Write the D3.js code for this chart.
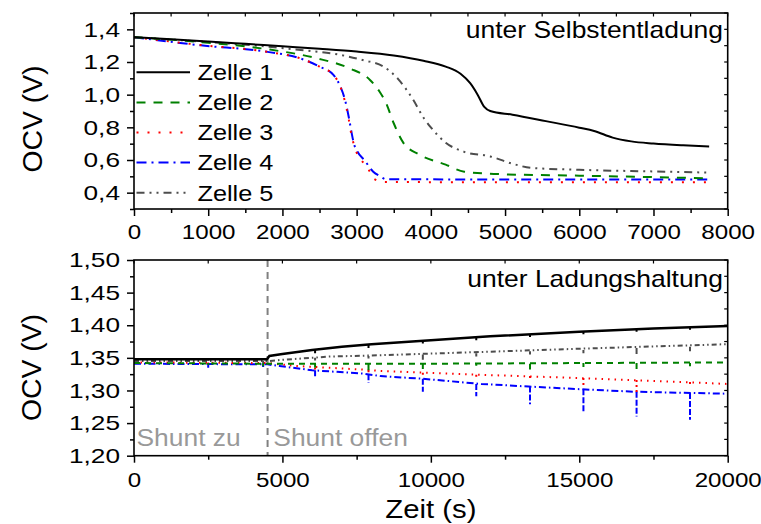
<!DOCTYPE html>
<html><head><meta charset="utf-8">
<script src="https://cdn.jsdelivr.net/npm/d3@7"></script>
<style>
body{margin:0;background:#fff;}
text{font-family:"Liberation Sans",Arial,Helvetica,sans-serif;}
</style>
</head><body>
<svg id="c" width="761" height="524"></svg>
<script>
// ---------------- data ----------------
const cellNames  = ["Zelle 1","Zelle 2","Zelle 3","Zelle 4","Zelle 5"];
const cellColors = ["#000000","#008000","#ff0000","#0000ff","#4d4d4d"];

const topXTicks = [0,1000,2000,3000,4000,5000,6000,7000,8000];
const topXMinor = [500,1500,2500,3500,4500,5500,6500,7500];
const topYTicks = [0.4,0.6,0.8,1.0,1.2,1.4];
const topYMinor = [0.3,0.5,0.7,0.9,1.1,1.3,1.5];
const botXTicks = [0,5000,10000,15000,20000];
const botXMinor = [2500,7500,12500,17500];
const botYTicks = [1.20,1.25,1.30,1.35,1.40,1.45,1.50];
const botYMinor = [1.225,1.275,1.325,1.375,1.425,1.475];

const topTitle = "unter Selbstentladung";
const botTitle = "unter Ladungshaltung";
const yTitle = "OCV (V)";
const xTitle = "Zeit (s)";
const shuntTime = 4500;
const shuntClosed = "Shunt zu";
const shuntOpen = "Shunt offen";

// self-discharge (top panel): [time s, OCV V]
const selfZ1 = [[0,1.352],[500,1.340],[1000,1.326],[1500,1.311],[2000,1.296],[2500,1.281],[3000,1.264],[3500,1.240],[3900,1.208],[4200,1.172],[4400,1.128],[4530,1.070],[4630,1.000],[4720,0.925],[4800,0.900],[5100,0.877],[5550,0.838],[6000,0.798],[6200,0.778],[6450,0.737],[6700,0.714],[7000,0.701],[7400,0.690],[7750,0.683]];
const selfZ2 = [[0,1.352],[1000,1.318],[1800,1.278],[2450,1.224],[2900,1.162],[3180,1.090],[3310,1.018],[3400,0.945],[3500,0.825],[3630,0.705],[3850,0.632],[4200,0.572],[4450,0.528],[4900,0.514],[6000,0.504],[7000,0.495],[7750,0.488]];
const selfZ3 = [[0,1.352],[900,1.304],[1800,1.262],[2240,1.222],[2500,1.172],[2690,1.120],[2780,1.050],[2840,0.962],[2890,0.858],[2930,0.755],[2965,0.690],[3000,0.645],[3100,0.578],[3170,0.535],[3235,0.484],[3380,0.465],[5000,0.464],[7750,0.463]];
const selfZ4 = [[0,1.352],[900,1.302],[1800,1.262],[2240,1.222],[2500,1.172],[2690,1.120],[2780,1.050],[2845,0.965],[2895,0.860],[2935,0.760],[2960,0.705],[3010,0.652],[3110,0.596],[3220,0.530],[3310,0.502],[3400,0.482],[5000,0.481],[7750,0.480]];
const selfZ5 = [[0,1.352],[1000,1.322],[1800,1.294],[2300,1.271],[2700,1.250],[3100,1.210],[3350,1.175],[3560,1.095],[3760,0.970],[3900,0.860],[4000,0.800],[4200,0.706],[4450,0.650],[4800,0.622],[5100,0.577],[5350,0.552],[6000,0.540],[7000,0.530],[7750,0.523]];

// charge holding (bottom panel): base curve [time, OCV] and spikes [time, top, bottom]
const holdZ1 = [[0,1.348],[4480,1.348],[4560,1.353],[5000,1.356],[6000,1.362],[7000,1.367],[8000,1.371],[10000,1.377],[12000,1.383],[15000,1.390],[17500,1.395],[20000,1.399]];
const holdZ2 = [[0,1.342],[4500,1.341],[10000,1.341],[20000,1.343]];
const holdZ3 = [[0,1.343],[4500,1.342],[5500,1.3375],[7700,1.332],[8300,1.330],[11700,1.324],[15000,1.319],[20000,1.310]];
const holdZ4 = [[0,1.341],[4500,1.340],[4900,1.3375],[6000,1.331],[7700,1.326],[8300,1.322],[9700,1.318],[11700,1.310],[13300,1.306],[15000,1.302],[16900,1.298],[20000,1.295]];
const holdZ5 = [[0,1.345],[4500,1.345],[5000,1.347],[6600,1.352],[8300,1.354],[11700,1.359],[15000,1.364],[20000,1.371]];

const spikeZ1 = [[2500,1.348,1.346],[6100,1.362,1.357],[7900,1.370,1.365],[9730,1.376,1.372],[11530,1.381,1.377],[13340,1.386,1.382],[15140,1.390,1.386],[16930,1.394,1.390],[18730,1.397,1.393]];
const spikeZ2 = [[2500,1.342,1.339],[4350,1.342,1.337],[6100,1.341,1.335],[7900,1.341,1.331],[9730,1.341,1.333],[11530,1.341,1.338],[13340,1.341,1.332],[15140,1.342,1.336],[16930,1.342,1.333],[18730,1.342,1.337]];
const spikeZ3 = [[2500,1.343,1.340],[6100,1.335,1.332],[7900,1.331,1.327],[9730,1.327,1.322],[11530,1.324,1.320],[13340,1.322,1.316],[15140,1.319,1.308],[16930,1.316,1.296],[18730,1.313,1.306]];
const spikeZ4 = [[2500,1.341,1.335],[4350,1.340,1.336],[6100,1.331,1.321],[7900,1.325,1.312],[9730,1.318,1.298],[11530,1.310,1.291],[13340,1.306,1.279],[15140,1.302,1.267],[16930,1.298,1.260],[18730,1.296,1.255]];
const spikeZ5 = [[4350,1.345,1.342],[6100,1.350,1.346],[7900,1.353,1.349],[9730,1.355,1.347],[11530,1.357,1.352],[13340,1.360,1.355],[15140,1.362,1.357],[16930,1.365,1.356],[18730,1.367,1.360]];

const selfSeries = [selfZ1,selfZ2,selfZ3,selfZ4,selfZ5];
const holdSeries = [holdZ1,holdZ2,holdZ3,holdZ4,holdZ5];
const spikeSeries = [spikeZ1,spikeZ2,spikeZ3,spikeZ4,spikeZ5];

// ---------------- styles ----------------
const dashTop = [null,"9,8","2,9","10,5,2,5","8,5,2,5,2,5"];
const dashBot = [null,"6,5","1.5,5","7,3,1.5,3","5,3,1.5,3,1.5,3"];
const widthTop = [2,2,2,2,2];
const widthBot = [2.5,2,2,2,2];
const drawOrder = [3,2,4,1,0];
const K = 1.15;   // horizontal text stretch
const KY = 1.25;  // y tick label stretch

const svg = d3.select("#c");
const L = 134, R = 727.7;
const P1 = {top:13, bottom:209};
const P2 = {top:260, bottom:455.7};

const x1 = d3.scaleLinear().domain([0,8000]).range([L,R]);
const y1 = d3.scaleLinear().domain([0.3,1.5]).range([P1.bottom,P1.top]);
const x2 = d3.scaleLinear().domain([0,20000]).range([L,R]);
const y2 = d3.scaleLinear().domain([1.2,1.5]).range([P2.bottom,P2.top]);

function label(parent, x, y, str, o){
  const g = parent.append("g").attr("transform", `translate(${x},${y})` + (o.rotate?` rotate(${o.rotate})`:""));
  g.append("text").attr("transform", `scale(${o.k||1},1)`)
    .attr("text-anchor", o.anchor||"start")
    .style("font-size", o.size+"px")
    .attr("fill", o.color||"#000")
    .text(str);
  return g;
}

function comma(fmt){ return d => d3.format(fmt)(d).replace(".", ","); }

function stretch(g, k){
  g.selectAll(".tick text").style("font-size","21px").attr("fill","#000")
    .attr("font-family",null)
    .each(function(){
      const t = d3.select(this);
      const xx = +t.attr("x") || 0;
      t.attr("x", xx/k).attr("transform",`scale(${k},1)`);
    });
}

function axes(x, y, P, xt, xm, yt, ym, yfmt, xpad){
  svg.append("g").attr("transform",`translate(0,${P.bottom})`)
    .call(d3.axisBottom(x).tickValues(xm).tickSize(4).tickFormat(""))
    .call(g=>g.select(".domain").remove());
  svg.append("g").attr("transform",`translate(${L},0)`)
    .call(d3.axisLeft(y).tickValues(ym).tickSize(4).tickFormat(""))
    .call(g=>g.select(".domain").remove());
  const gx = svg.append("g").attr("transform",`translate(0,${P.bottom})`)
    .call(d3.axisBottom(x).tickValues(xt).tickSize(7).tickPadding(xpad).tickFormat(d3.format("d")))
    .call(g=>g.select(".domain").remove());
  const gy = svg.append("g").attr("transform",`translate(${L},0)`)
    .call(d3.axisLeft(y).tickValues(yt).tickSize(7).tickPadding(7).tickFormat(comma(yfmt)))
    .call(g=>g.select(".domain").remove());
  stretch(gx, K);
  stretch(gy, KY);
  svg.selectAll(".tick line").attr("stroke","#000").attr("stroke-width",1.5);
  const all = xt.concat(xm), allY = yt.concat(ym);
  svg.append("g").selectAll("line").data(all).join("line")
    .attr("x1",d=>x(d)).attr("x2",d=>x(d)).attr("y1",P.top).attr("y2",P.top+3.5)
    .attr("stroke","#000").attr("stroke-width",1.2);
  svg.append("g").selectAll("line").data(allY).join("line")
    .attr("y1",d=>y(d)).attr("y2",d=>y(d)).attr("x1",R).attr("x2",R-3.5)
    .attr("stroke","#000").attr("stroke-width",1.2);
  svg.append("rect").attr("x",L).attr("y",P.top).attr("width",R-L).attr("height",P.bottom-P.top)
    .attr("fill","none").attr("stroke","#000").attr("stroke-width",1.6);
}

// ---------------- top panel ----------------
const defs = svg.append("defs");
defs.append("clipPath").attr("id","cp1")
  .append("rect").attr("x",L).attr("y",P1.top).attr("width",R-L).attr("height",P1.bottom-P1.top);
const lineTop = d3.line().x(d=>x1(d[0])).y(d=>y1(d[1])).curve(d3.curveMonotoneX);
const gTop = svg.append("g").attr("clip-path","url(#cp1)");
drawOrder.forEach(i=>{
  gTop.append("path").datum(selfSeries[i]).attr("d",lineTop)
    .attr("fill","none").attr("stroke",cellColors[i]).attr("stroke-width",widthTop[i])
    .attr("stroke-dasharray",dashTop[i]);
});
axes(x1,y1,P1,topXTicks,topXMinor,topYTicks,topYMinor,".1f",8);

const leg = svg.append("g");
cellNames.forEach((n,i)=>{
  const yy = 72.3 + i*30.1;
  leg.append("line").attr("x1",136.5).attr("x2",190).attr("y1",yy).attr("y2",yy)
    .attr("stroke",cellColors[i]).attr("stroke-width",2).attr("stroke-dasharray",dashTop[i]);
  label(leg, 197.5, yy+7.8, n, {size:22, k:K});
});
label(svg, 723, 37.5, topTitle, {size:23, k:K, anchor:"end"});
label(svg, 42, 119, yTitle, {size:27, k:1.05, anchor:"middle", rotate:-90});

// ---------------- bottom panel ----------------
defs.append("clipPath").attr("id","cp2")
  .append("rect").attr("x",L).attr("y",P2.top).attr("width",R-L).attr("height",P2.bottom-P2.top);
const gBot = svg.append("g").attr("clip-path","url(#cp2)");
const lineBot = d3.line().x(d=>x2(d[0])).y(d=>y2(d[1]));
gBot.append("line").attr("x1",x2(shuntTime)).attr("x2",x2(shuntTime))
  .attr("y1",P2.top).attr("y2",P2.bottom)
  .attr("stroke","#808080").attr("stroke-width",2).attr("stroke-dasharray","7,5");
drawOrder.forEach(i=>{
  gBot.append("path").datum(holdSeries[i]).attr("d",lineBot)
    .attr("fill","none").attr("stroke",cellColors[i]).attr("stroke-width",widthBot[i])
    .attr("stroke-dasharray",dashBot[i]);
  gBot.append("g").selectAll("line").data(spikeSeries[i]).join("line")
    .attr("x1",d=>x2(d[0])).attr("x2",d=>x2(d[0]))
    .attr("y1",d=>y2(d[1])).attr("y2",d=>y2(d[2]))
    .attr("stroke",cellColors[i]).attr("stroke-width",2)
    .attr("stroke-dasharray", i===3 ? "6,2" : (i===2 ? "2,3" : null));
});
axes(x2,y2,P2,botXTicks,botXMinor,botYTicks,botYMinor,".2f",9.5);

label(svg, 723, 286.7, botTitle, {size:23, k:K, anchor:"end"});
label(svg, 136.5, 446, shuntClosed, {size:24, k:1.1, color:"#999999"});
label(svg, 273.3, 446, shuntOpen, {size:24, k:1.1, color:"#999999"});
label(svg, 40.5, 367.5, yTitle, {size:27, k:1.05, anchor:"middle", rotate:-90});
label(svg, 430.9, 518, xTitle, {size:25.5, k:K, anchor:"middle"});
</script>
</body></html>
